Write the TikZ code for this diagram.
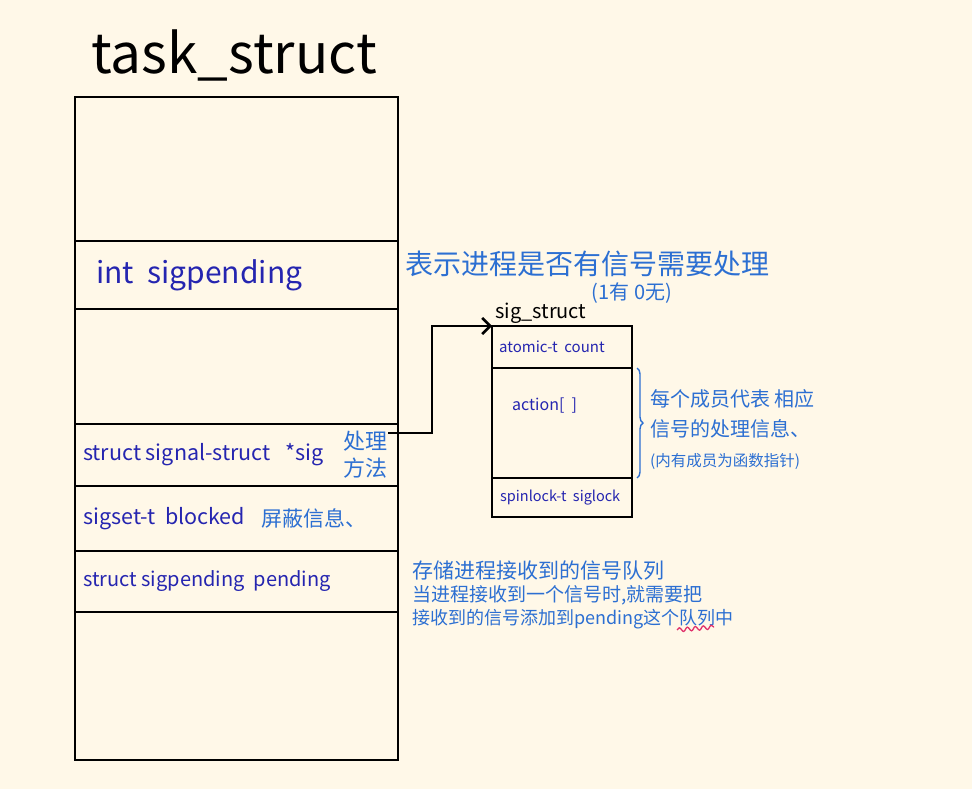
\documentclass[tikz,border=0pt]{standalone}
\usepackage{fontspec}
\setmainfont{Noto Sans CJK SC}
\usetikzlibrary{positioning,arrows.meta,decorations.pathreplacing,decorations.pathmorphing}

\definecolor{paper}{HTML}{FFF8E8}
\definecolor{codeblue}{HTML}{2525B0}
\definecolor{noteblue}{HTML}{2C6FD2}
\definecolor{wavyred}{HTML}{E0306A}

\tikzset{tfield/.style = {draw, line width=2.6pt, minimum width=323, minimum height=#1,
                          inner sep=0pt, outer sep=0pt},
         sfield/.style = {draw, line width=2.6pt, minimum width=140, minimum height=#1,
                          inner sep=0pt, outer sep=0pt},
         code/.style   = {text=codeblue, inner sep=0pt, font=\fontsize{#1}{#1}\selectfont},
         code/.default = 20,
         note/.style   = {text=noteblue, inner sep=0pt, align=left},
         ptr/.style    = {line width=2.6pt, -{Straight Barb[length=8pt,width=16pt]}},
         brc/.style    = {draw=noteblue, line width=1.4pt,
                          decorate, decoration={brace, amplitude=6pt}}
        }

\begin{document}
\begin{tikzpicture}[x=1pt, y=-1pt, node distance=0pt]
  \fill[paper] (0,0) rectangle (972,789);

  \node[inner sep=0pt, font=\fontsize{55}{55}\selectfont] (ttitle) at (234,55) {task\_struct};

  \node[tfield=144, anchor=north west] (t1) at (75,97) {};
  \node[tfield=68,  below=of t1] (t2) {};
  \node[tfield=115, below=of t2] (t3) {};
  \node[tfield=62,  below=of t3] (t4) {};
  \node[tfield=65,  below=of t4] (t5) {};
  \node[tfield=61,  below=of t5] (t6) {};
  \node[tfield=148, below=of t6] (t7) {};

  \node[code=30, right=21pt of t2.west] (sigpending) {int\ \ sigpending};
  \node[code=21.5, right=8pt of t4.west]  (sigptrtxt) {struct signal-struct\ \ \ *sig};
  \node[note, align=center, font=\fontsize{22}{27}\selectfont,
        left=10pt of t4.east] (howto) {处理\\方法};
  \node[code=21.5, right=8pt of t5.west] (blocked) {sigset-t\ \ blocked};
  \node[note, font=\fontsize{21}{21}\selectfont, right=16pt of blocked] (blockednote) {屏蔽信息、};
  \node[code=20, right=8pt of t6.west]  (pending) {struct sigpending\ \ pending};

  \node[note, anchor=west, font=\fontsize{28}{28}\selectfont] (pendnote) at (405,264)
       {表示进程是否有信号需要处理};
  \node[note, font=\fontsize{20}{20}\selectfont] (onezero) at (632,293) {(1有\ 0无)};

  \node[sfield=42, anchor=north west] (s1) at (492,326) {};
  \node[sfield=110, below=of s1] (s2) {};
  \node[sfield=39,  below=of s2] (s3) {};

  \node[inner sep=0pt, anchor=west, font=\fontsize{20}{20}\selectfont] (stitle) at (495,313) {sig\_struct};
  \node[code=15, right=7pt of s1.west] (count) {atomic-t\ \ count};
  \node[code=16, anchor=west] (action) at ([xshift=20pt,yshift=17pt]s2.west) {action[\ \ ]};
  \node[code=14.5, right=8pt of s3.west] (siglock) {spinlock-t\ \ siglock};

  \coordinate (sigptr) at (388,433);
  \draw[ptr] (sigptr) -- (432,433) |- (s1.north west);

  \draw[brc] ([xshift=5pt]s2.north east) -- ([xshift=5pt]s2.south east);
  \node[note, anchor=north west, font=\fontsize{20}{30}\selectfont] (actionnote) at (650,389)
       {每个成员代表 相应\\信号的处理信息、\\{\fontsize{15.5}{15.5}\selectfont (内有成员为函数指针)}};

  \node[note, anchor=north west, font=\fontsize{19}{23}\selectfont] (queuenote) at (412,561)
       {{\fontsize{21}{23}\selectfont 存储进程接收到的信号队列}\\当进程接收到一个信号时,就需要把\\{\fontsize{18}{23}\selectfont 接收到的信号添加到pending这个队列中}};

  \draw[wavyred, line width=1.3pt, decorate,
        decoration={snake, amplitude=2pt, segment length=8pt}] (677,630) -- (714,627);
\end{tikzpicture}
\end{document}
